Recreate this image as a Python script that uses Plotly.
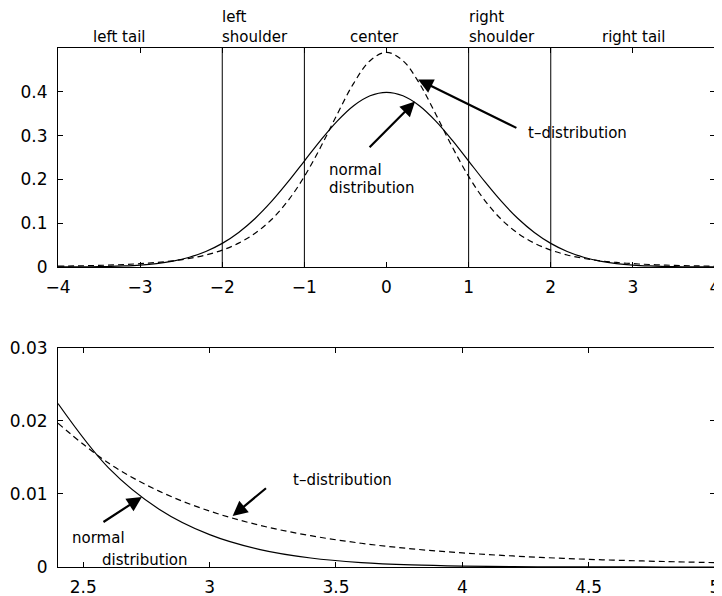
import plotly.graph_objects as go
from plotly.subplots import make_subplots

# top panel: densities on [-4, 4]
x_full = [-4.0, -3.8, -3.6, -3.4, -3.2, -3.0, -2.8, -2.6, -2.4, -2.2, -2.0,
          -1.8, -1.6, -1.4, -1.2, -1.0, -0.8, -0.6, -0.4, -0.2, 0.0,
          0.2, 0.4, 0.6, 0.8, 1.0, 1.2, 1.4, 1.6, 1.8, 2.0,
          2.2, 2.4, 2.6, 2.8, 3.0, 3.2, 3.4, 3.6, 3.8, 4.0]
normal_full = [0.0001, 0.0003, 0.0006, 0.0012, 0.0024, 0.0044, 0.0079, 0.0136, 0.0224, 0.0355, 0.0540,
               0.0790, 0.1109, 0.1497, 0.1942, 0.2420, 0.2897, 0.3332, 0.3683, 0.3910, 0.3989,
               0.3910, 0.3683, 0.3332, 0.2897, 0.2420, 0.1942, 0.1497, 0.1109, 0.0790, 0.0540,
               0.0355, 0.0224, 0.0136, 0.0079, 0.0044, 0.0024, 0.0012, 0.0006, 0.0003, 0.0001]
t_full = [0.0019, 0.0025, 0.0033, 0.0043, 0.0057, 0.0077, 0.0104, 0.0142, 0.0197, 0.0275, 0.0386,
          0.0545, 0.0770, 0.1084, 0.1512, 0.2068, 0.2744, 0.3489, 0.4194, 0.4710, 0.4901,
          0.4710, 0.4194, 0.3489, 0.2744, 0.2068, 0.1512, 0.1084, 0.0770, 0.0545, 0.0386,
          0.0275, 0.0197, 0.0142, 0.0104, 0.0077, 0.0057, 0.0043, 0.0033, 0.0025, 0.0019]

# bottom panel: right tail on [2.4, 5]
x_tail = [2.4, 2.6, 2.8, 3.0, 3.2, 3.4, 3.6, 3.8, 4.0, 4.2, 4.4, 4.6, 4.8, 5.0]
normal_tail = [0.02239, 0.01358, 0.00792, 0.00443, 0.00238, 0.00123, 0.00061, 0.00029,
               0.00013, 0.00006, 0.00002, 0.00001, 0.0, 0.0]
t_tail = [0.01968, 0.01423, 0.01039, 0.00766, 0.00570, 0.00429, 0.00325, 0.00249,
          0.00193, 0.00151, 0.00118, 0.00094, 0.00075, 0.00060]

region_bounds = [-2, -1, 1, 2]

FONT = "DejaVu Sans, Liberation Sans, Arial, sans-serif"
BLACK = "black"

fig = make_subplots(rows=2, cols=1, vertical_spacing=0.0)

solid = dict(color=BLACK, width=1.2)
dashed = dict(color=BLACK, width=1.2, dash="6px,4px")

fig.add_trace(go.Scatter(x=x_full, y=normal_full, mode="lines", line=dict(shape="spline", **solid)), row=1, col=1)
fig.add_trace(go.Scatter(x=x_full, y=t_full, mode="lines", line=dict(shape="spline", **dashed)), row=1, col=1)
fig.add_trace(go.Scatter(x=x_tail, y=normal_tail, mode="lines", line=dict(shape="spline", **solid)), row=2, col=1)
fig.add_trace(go.Scatter(x=x_tail, y=t_tail, mode="lines", line=dict(shape="spline", **dashed)), row=2, col=1)

for b in region_bounds:
    fig.add_shape(type="line", xref="x", yref="y domain", x0=b, x1=b, y0=0, y1=1,
                  line=dict(color=BLACK, width=1))

axis_style = dict(showline=True, linecolor=BLACK, linewidth=1, mirror="allticks",
                  ticks="inside", ticklen=5, tickcolor=BLACK, showgrid=False,
                  zeroline=False, automargin=False, ticklabeloverflow="allow",
                  tickfont=dict(size=17, color=BLACK, family=FONT))

fig.update_xaxes(axis_style)
fig.update_yaxes(axis_style)
fig.update_xaxes(range=[-4, 4], tickvals=[-4, -3, -2, -1, 0, 1, 2, 3, 4], ticklabelstandoff=5,
                 row=1, col=1)
fig.update_yaxes(range=[0, 0.5], tickvals=[0, 0.1, 0.2, 0.3, 0.4], ticklabelstandoff=6,
                 domain=[0.578, 1.0], row=1, col=1)
fig.update_xaxes(range=[2.4, 5], tickvals=[2.5, 3, 3.5, 4, 4.5, 5], ticklabelstandoff=5,
                 row=2, col=1)
fig.update_yaxes(range=[0, 0.03], tickvals=[0, 0.01, 0.02, 0.03], ticklabelstandoff=6,
                 domain=[0.0, 0.422], row=2, col=1)

tf = dict(size=15, color=BLACK, family=FONT)

# region labels above the top panel (y in top-panel domain units)
region_labels = [(-3.57, 1.050, "left tail"), (-2.0, 1.142, "left"), (-2.0, 1.050, "shoulder"),
                 (-0.44, 1.050, "center"), (1.0, 1.142, "right"), (1.0, 1.050, "shoulder"),
                 (2.62, 1.050, "right tail")]
for lx, ly, txt in region_labels:
    fig.add_annotation(x=lx, y=ly, xref="x", yref="y domain", text=txt, showarrow=False,
                       xanchor="left", yanchor="middle", font=tf, xshift=-2)

# text labels inside panels
fig.add_annotation(x=1.72, y=0.307, xref="x", yref="y", text="t\u2013distribution", showarrow=False,
                   xanchor="left", yanchor="middle", font=tf, xshift=-2)
fig.add_annotation(x=-0.70, y=0.222, xref="x", yref="y", text="normal", showarrow=False,
                   xanchor="left", yanchor="middle", font=tf, xshift=-2)
fig.add_annotation(x=-0.70, y=0.181, xref="x", yref="y", text="distribution", showarrow=False,
                   xanchor="left", yanchor="middle", font=tf, xshift=-2)
fig.add_annotation(x=3.328, y=0.0119, xref="x2", yref="y2", text="t\u2013distribution", showarrow=False,
                   xanchor="left", yanchor="middle", font=tf, xshift=-2)
fig.add_annotation(x=2.455, y=0.00397, xref="x2", yref="y2", text="normal", showarrow=False,
                   xanchor="left", yanchor="middle", font=tf, xshift=-2)
fig.add_annotation(x=2.573, y=0.00096, xref="x2", yref="y2", text="distribution", showarrow=False,
                   xanchor="left", yanchor="middle", font=tf, xshift=-2)

# arrows (head, tail)
arrows = [("x", "y", 0.385, 0.428, 1.60, 0.316),
          ("x", "y", 0.348, 0.378, -0.224, 0.270),
          ("x2", "y2", 3.091, 0.00699, 3.229, 0.01096),
          ("x2", "y2", 2.732, 0.00959, 2.574, 0.00603)]
for xr, yr, hx, hy, tx, ty in arrows:
    fig.add_annotation(x=hx, y=hy, ax=tx, ay=ty, xref=xr, yref=yr, axref=xr, ayref=yr,
                       text="", showarrow=True, arrowhead=2, arrowsize=1.35, arrowwidth=2.2,
                       arrowcolor=BLACK, standoff=0, startstandoff=0)

# the page body adds an 8px margin, so the figure is 8px smaller than the window
fig.update_layout(width=714, height=588, margin=dict(l=50, r=7, t=40, b=29),
                  plot_bgcolor="white", paper_bgcolor="white", showlegend=False,
                  font=dict(family=FONT, color=BLACK))

fig.write_html("out.html")
